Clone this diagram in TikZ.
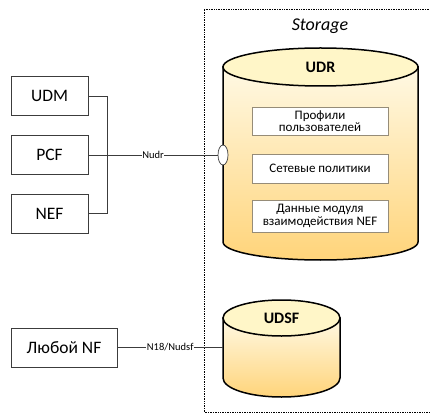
\documentclass[tikz,border=0pt]{standalone}
\usepackage{fontspec}
\setmainfont{Carlito}
\usepackage{xcolor}
\usepackage{tikz}
\usetikzlibrary{shapes.geometric,positioning,calc}
\definecolor{cyltopfill}{RGB}{255,246,200}
\definecolor{cyllight}{RGB}{255,249,228}
\definecolor{cyldark}{RGB}{255,212,122}
\definecolor{boxline}{RGB}{60,60,60}
\definecolor{itemline}{RGB}{150,140,120}

\begin{document}
\begin{tikzpicture}[x=1pt, y=1pt,
    nfbox/.style={rectangle, draw=boxline, line width=0.8pt, minimum width=77pt, minimum height=39pt, text centered, font=\fontsize{17.5}{20}\selectfont},
    itembox/.style={rectangle, draw=itemline, fill=white, line width=0.7pt, minimum width=136pt, align=center, inner sep=1pt, font=\fontsize{13}{12.5}\selectfont},
    cylbody/.style={draw=black, line width=1.5pt, top color=cyllight, bottom color=cyldark},
    cyltop/.style={draw=black, line width=1.5pt, fill=cyltopfill},
    cyllabel/.style={font=\bfseries\fontsize{16}{18}\selectfont},
    ifacelabel/.style={fill=white, inner sep=0.6pt, font=\fontsize{10.5}{12}\selectfont},
    link/.style={draw=boxline, line width=0.8pt}]
  \useasboundingbox (0,0) rectangle (430,415);
  % storage area
  \draw[densely dotted, line width=0.7pt] (204,3) rectangle (434,406);
  \node[font=\itshape\fontsize{18}{20}\selectfont] (storage) at (320,389) {Storage};
  % UDR
  \draw[cylbody] (223,348) -- (223,173) arc[start angle=180, end angle=360, x radius=97.5, y radius=18] -- (418,348) -- cycle;
  \filldraw[cyltop] (320.5,348) ellipse[x radius=97.5, y radius=19];
  \node[cyllabel] (udr) at (320.5,348) {UDR};
  \node[itembox, minimum height=28pt] (profiles) at (320,294) {Профили\\пользователей};
  \node[itembox, minimum height=29pt] (policies) at (320,246.5) {Сетевые политики};
  \node[itembox, minimum height=32pt] (nefdata) at (320,199) {Данные модуля\\взаимодействия NEF};
  \node[ellipse, draw=boxline, fill=white, line width=0.7pt, minimum width=10pt, minimum height=20pt, inner sep=0pt] (port) at (223,260) {};
  % UDSF
  \draw[cylbody] (223,97) -- (223,37) arc[start angle=180, end angle=360, x radius=58.5, y radius=19] -- (340,97) -- cycle;
  \filldraw[cyltop] (281.5,97) ellipse[x radius=58.5, y radius=18];
  \node[cyllabel] (udsf) at (281.5,97) {UDSF};
  \coordinate (udsfport) at (223,67.5);
  % network functions
  \node[nfbox] (pcf) at (49.5,260) {PCF};
  \node[nfbox, above=19pt of pcf] (udm) {UDM};
  \node[nfbox, below=19pt of pcf] (nef) {NEF};
  \node[nfbox, minimum width=106pt] (anynf) at (64,67.5) {Любой NF};
  % interfaces
  \draw[link] (udm.east) -- ++(19,0) |- (nef.east);
  \draw[link] (pcf) -- node[ifacelabel] {Nudr} (port);
  \draw[link] (anynf) -- node[ifacelabel] {N18/Nudsf} (udsfport);
\end{tikzpicture}
\end{document}
